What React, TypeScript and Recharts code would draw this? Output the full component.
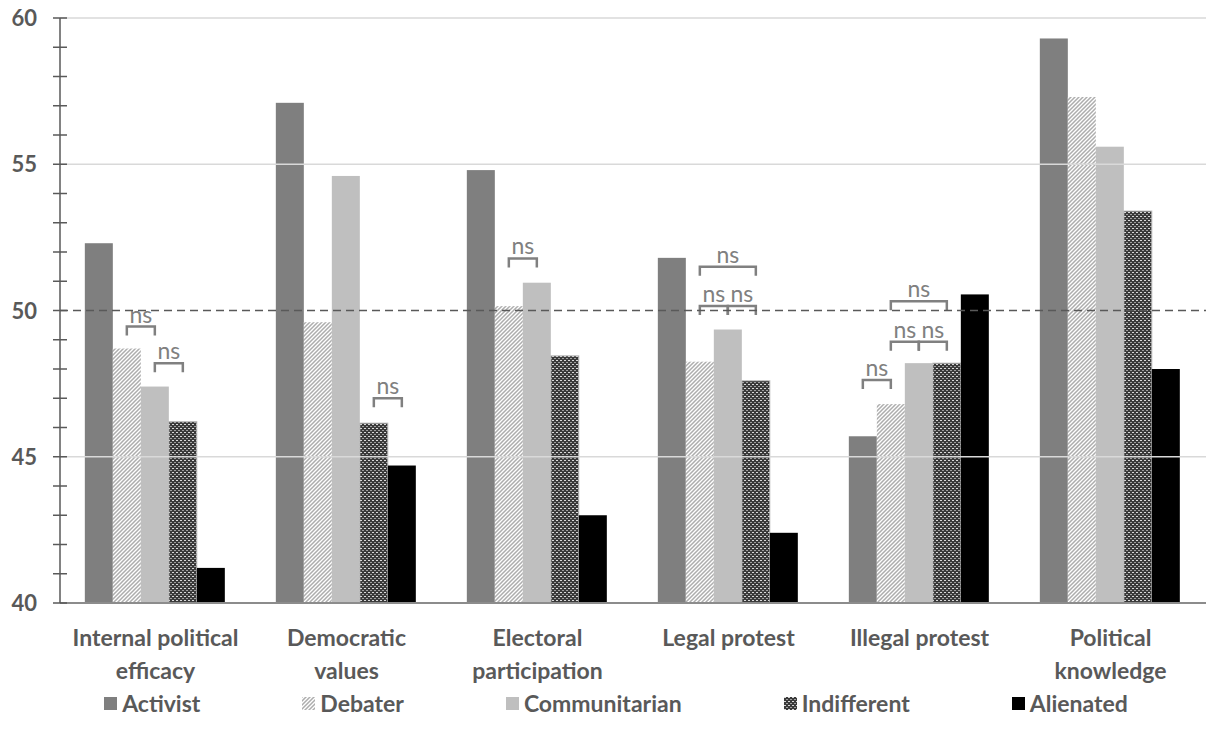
import React from 'react';
import { BarChart, Bar, XAxis, YAxis, ReferenceLine } from 'recharts';

const categoryLines = [
  ['Internal political', 'efficacy'],
  ['Democratic', 'values'],
  ['Electoral', 'participation'],
  ['Legal protest'],
  ['Illegal protest'],
  ['Political', 'knowledge'],
];
const categories = categoryLines.map((l) => l.join(' '));

const activist = [52.3, 57.1, 54.8, 51.8, 45.7, 59.3];
const debater = [48.7, 49.6, 50.15, 48.25, 46.8, 57.3];
const communitarian = [47.4, 54.6, 50.95, 49.35, 48.2, 55.6];
const indifferent = [46.2, 46.15, 48.45, 47.6, 48.2, 53.4];
const alienated = [41.2, 44.7, 43.0, 42.4, 50.55, 48.0];

const yTicks = [40, 41, 42, 43, 44, 45, 46, 47, 48, 49, 50, 51, 52, 53, 54, 55, 56, 57, 58, 59, 60];
const yLabels = [40, 45, 50, 55, 60];
const gridValues = [45, 55, 60];

// "ns" brackets: category index, from series, to series, height in axis units
const brackets = [
  { cat: 0, from: 1, to: 2, at: 49.45 },
  { cat: 0, from: 2, to: 3, at: 48.2 },
  { cat: 1, from: 3, to: 4, at: 47.0 },
  { cat: 2, from: 1, to: 2, at: 51.78 },
  { cat: 3, from: 1, to: 3, at: 51.5 },
  { cat: 3, from: 1, to: 2, at: 50.15 },
  { cat: 3, from: 2, to: 3, at: 50.15 },
  { cat: 4, from: 0, to: 1, at: 47.62 },
  { cat: 4, from: 1, to: 3, at: 50.32 },
  { cat: 4, from: 1, to: 2, at: 48.93 },
  { cat: 4, from: 2, to: 3, at: 48.93 },
];

const series = [
  { key: 'activist', name: 'Activist', values: activist, fill: '#7f7f7f', stroke: 'none' },
  { key: 'debater', name: 'Debater', values: debater, fill: 'url(#hatch)', stroke: 'none' },
  { key: 'communitarian', name: 'Communitarian', values: communitarian, fill: '#bfbfbf', stroke: 'none' },
  { key: 'indifferent', name: 'Indifferent', values: indifferent, fill: 'url(#check)', stroke: '#bfbfbf' },
  { key: 'alienated', name: 'Alienated', values: alienated, fill: '#000000', stroke: 'none' },
];

const data = categories.map((c, i) => {
  const row: any = { category: c };
  series.forEach((s) => { row[s.key] = s.values[i]; });
  return row;
});

const Y_MIN = 40;
const FONT = 'Lato, "Open Sans", sans-serif';
const TEXT = '#595959';

function Patterns({ prefix = '' }: { prefix?: string }) {
  return (
    <defs>
      <pattern id={`${prefix}hatch`} patternUnits="userSpaceOnUse" width="4" height="4">
        <rect width="4" height="4" fill="#ffffff" />
        <path d="M-1,1 l2,-2 M0,4 l4,-4 M3,5 l2,-2" stroke="#adadad" strokeWidth="1.5" />
      </pattern>
      <pattern id={`${prefix}check`} patternUnits="userSpaceOnUse" width="4" height="4">
        <rect width="4" height="4" fill="#3a3a3a" />
        <rect x="0" y="0" width="2" height="1" fill="#d9d9d9" />
        <rect x="2" y="2" width="2" height="1" fill="#a0a0a0" />
      </pattern>
    </defs>
  );
}

function makeShape(si: number) {
  return (props: any) => {
    const { x, y, width, height } = props;
    const idx = categories.indexOf(props.payload?.category);
    const value = series[si].values[idx];
    const bottom = y + height;
    const pxPer = height / (value - Y_MIN);
    const mine = brackets.filter((b) => b.cat === idx && b.from === si);
    const s = series[si];
    return (
      <g>
        <rect x={x} y={y} width={width} height={height} fill={s.fill}
          stroke={s.stroke} strokeWidth={s.stroke === 'none' ? 0 : 1} />
        {mine.map((b, k) => {
          const by = bottom - (b.at - Y_MIN) * pxPer;
          const x1 = x + width / 2;
          const x2 = x1 + (b.to - b.from) * width;
          return (
            <g key={k}>
              <path d={`M${x1},${by + 9}V${by}H${x2}V${by + 9}`} stroke="#808080"
                strokeWidth={2.5} fill="none" />
              <text x={(x1 + x2) / 2} y={by - 4} textAnchor="middle" fontFamily={FONT}
                fontSize={23} fill="#808080">ns</text>
            </g>
          );
        })}
      </g>
    );
  };
}

function YTick(props: any) {
  const { x, y, payload } = props;
  const v = payload.value;
  return (
    <g>
      <line x1={x - 7} x2={x + 7} y1={y} y2={y} stroke="#595959" strokeWidth={1.5} />
      {yLabels.includes(v) && (
        <text x={x - 23} y={y + 8} textAnchor="end" fontFamily={FONT} fontWeight={700}
          fontSize={22} fill={TEXT}>{v}</text>
      )}
    </g>
  );
}

function XTick(props: any) {
  const { x, y, payload } = props;
  const lines = categoryLines[categories.indexOf(payload.value)] || [payload.value];
  return (
    <text x={x} y={y} textAnchor="middle" fontFamily={FONT} fontWeight={700} fontSize={23} fill={TEXT}>
      {lines.map((l, i) => (
        <tspan key={i} x={x} dy={i === 0 ? 35 : 33}>{l}</tspan>
      ))}
    </text>
  );
}

function LegendIcon({ s }: { s: any }) {
  const fill = s.fill.startsWith('url') ? s.fill.replace('#', '#lg-') : s.fill;
  return (
    <svg width={13} height={13} style={{ display: 'block' }}>
      <Patterns prefix="lg-" />
      <rect x={0} y={0} width={13} height={13} fill={fill} />
    </svg>
  );
}

export default function App() {
  return (
    <div style={{ position: 'absolute', left: 0, top: 0, width: 1206, height: 747, background: '#fff' }}>
      <BarChart width={1206} height={747} data={data} barCategoryGap="13%" barGap={0}
        margin={{ top: 18, right: 0, bottom: 64, left: 0 }}>
        <Patterns />
        {gridValues.map((g) => (
          <ReferenceLine key={g} y={g} stroke="#d9d9d9" strokeWidth={1.5} />
        ))}
        <ReferenceLine y={50} stroke="#595959" strokeWidth={1.5} strokeDasharray="8 5" />
        <XAxis dataKey="category" tick={<XTick />} tickLine={false} height={80}
          axisLine={{ stroke: '#8c8c8c', strokeWidth: 2 }} interval={0} />
        <YAxis domain={[40, 60]} ticks={yTicks} interval={0} width={60} tickSize={0} tickMargin={0}
          tick={<YTick />} tickLine={false} axisLine={{ stroke: '#595959', strokeWidth: 1.5 }} />
        {series.map((s, i) => (
          <Bar key={s.key} dataKey={s.key} name={s.name} fill={s.fill}
            shape={makeShape(i)} isAnimationActive={false} />
        ))}
      </BarChart>
      <div style={{ position: 'absolute', top: 689, left: 0, width: 1206, display: 'flex',
        justifyContent: 'center', gap: 102, paddingLeft: 26, boxSizing: 'border-box' }}>
        {series.map((s) => (
          <div key={s.key} style={{ display: 'flex', alignItems: 'center', gap: 5 }}>
            <LegendIcon s={s} />
            <span style={{ fontFamily: FONT, fontWeight: 700, fontSize: 23, color: TEXT, lineHeight: '28px' }}>
              {s.name}
            </span>
          </div>
        ))}
      </div>
    </div>
  );
}
